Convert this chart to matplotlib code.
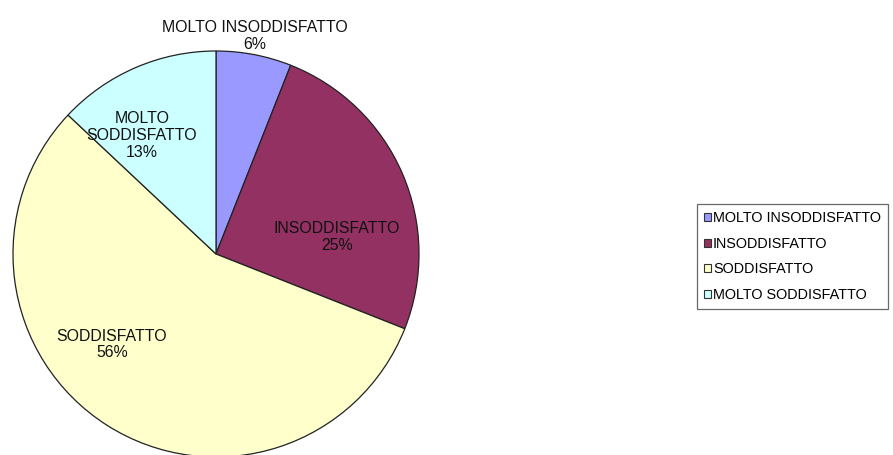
import numpy as np
from matplotlib import pyplot as plt

categories = ["MOLTO INSODDISFATTO", "INSODDISFATTO", "SODDISFATTO", "MOLTO SODDISFATTO"]
shares = [6, 25, 56, 13]
pie_labels = ["MOLTO INSODDISFATTO\n6%", "INSODDISFATTO\n25%", "SODDISFATTO\n56%", "MOLTO\nSODDISFATTO\n13%"]

colors = ["#9999FF", "#933162", "#FFFFCC", "#CCFFFF"]
# label placement (radius fraction, angle in degrees) picked to mimic the original
label_rad = [1.09, 0.60, 0.68, 0.69]
label_ang = [79.9, 7.9, 221.0, 122.0]

plt.rcParams["font.family"] = ["Liberation Sans", "DejaVu Sans"]

W, H = 893, 455
fig = plt.figure(figsize=(W / 100, H / 100), dpi=100)
r = 203
cx, cy = 216, H - 254
ax = fig.add_axes([(cx - r) / W, (cy - r) / H, 2 * r / W, 2 * r / H])

wedges, _ = ax.pie(shares, colors=colors, startangle=90, counterclock=False,
                   wedgeprops=dict(edgecolor="#222222", linewidth=0.9))
ax.set_xlim(-1, 1)
ax.set_ylim(-1, 1)
ax.set_aspect("equal")

for lab, rf, a in zip(pie_labels, label_rad, label_ang):
    t = np.deg2rad(a)
    ax.text(rf * np.cos(t), rf * np.sin(t), lab, ha="center", va="center",
            fontsize=11.4, color="#111111", linespacing=1.15, clip_on=False)

leg = fig.legend(wedges, categories, loc="upper left",
                 bbox_to_anchor=(697 / W, 1 - 204 / H), fontsize=10.4,
                 frameon=True, fancybox=False, edgecolor="#444444",
                 handlelength=0.5, handleheight=0.5, handletextpad=0.1,
                 labelspacing=0.8, borderpad=0.5, borderaxespad=0)
leg.get_frame().set_linewidth(0.9)
for h in leg.legend_handles:
    h.set_edgecolor("#333333")
    h.set_linewidth(0.8)

fig.savefig("out.png", dpi=100)
